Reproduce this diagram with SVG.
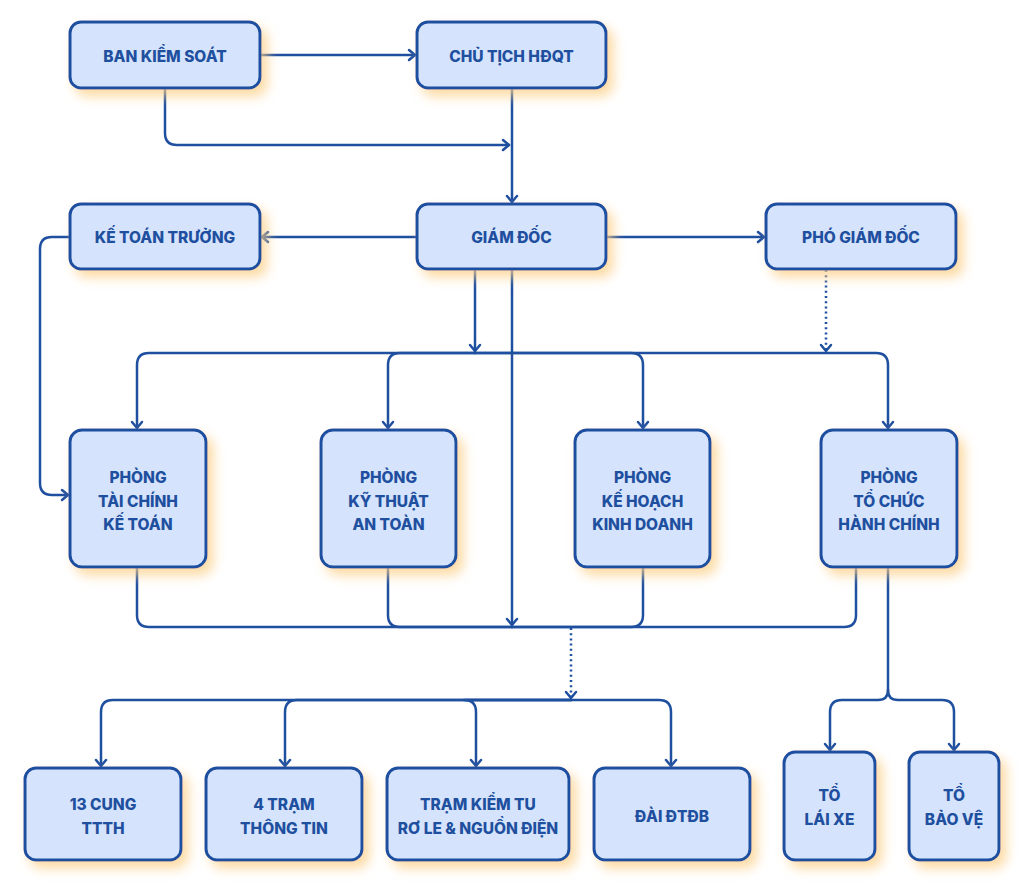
<svg xmlns="http://www.w3.org/2000/svg" width="1024" height="896" viewBox="0 0 1024 896">
<style>
.box{fill:#d5e4fc;stroke:#1f4f9f;stroke-width:3}
.lbl{font-family:Inter,"Noto Sans","DejaVu Sans",sans-serif;font-weight:800;font-size:15.5px;fill:#1f4f9f;text-anchor:middle;dominant-baseline:central}
.ln{fill:none;stroke:#1f4f9f;stroke-width:2.5;stroke-linecap:round;stroke-linejoin:round}
.arr{marker-end:url(#ah)}
.dot{stroke-dasharray:2 3.2;stroke-linecap:butt}
</style>
<defs>
<filter id="sh" x="-30%" y="-30%" width="170%" height="170%">
<feDropShadow dx="6" dy="7" stdDeviation="6" flood-color="#fbcf85" flood-opacity="0.75"/>
</filter>
<marker id="ah" viewBox="-9 -7 11 14" refX="0" refY="0" markerWidth="11" markerHeight="14" markerUnits="userSpaceOnUse" orient="auto">
<path d="M-6,-5 L0,0 L-6,5" fill="none" stroke="#1f4f9f" stroke-width="2.5" stroke-linecap="round" stroke-linejoin="round"/>
</marker>
</defs>
<rect width="1024" height="896" fill="#ffffff"/>
<g id="connectors">
<path class="ln arr" d="M260,55 H415"/>
<path class="ln arr" d="M165,88 V133 Q165,145 177,145 H509"/>
<path class="ln arr" d="M512,88 V202"/>
<path class="ln arr" d="M417,237 H262"/>
<path class="ln arr" d="M606,237 H764"/>
<path class="ln arr" d="M70,237 H52 Q40,237 40,249 V483 Q40,495 52,495 H68"/>
<path class="ln arr" d="M475,269 V351"/>
<path class="ln arr" d="M512,269 V625"/>
<path class="ln arr dot" d="M826,270 V351"/>
<path class="ln arr" d="M475,353 H149 Q137,353 137,365 V428"/>
<path class="ln arr" d="M475,353 H400 Q388,353 388,365 V428"/>
<path class="ln arr" d="M475,353 H631 Q643,353 643,365 V428"/>
<path class="ln arr" d="M475,353 H876 Q888,353 888,365 V428"/>
<path class="ln" d="M137,568 V615 Q137,627 149,627 H512"/>
<path class="ln" d="M388,568 V615 Q388,627 400,627 H512"/>
<path class="ln" d="M643,568 V615 Q643,627 631,627 H512"/>
<path class="ln" d="M856,568 V615 Q856,627 844,627 H512"/>
<path class="ln arr dot" d="M571,628 V698"/>
<path class="ln arr" d="M571,700 H113 Q101,700 101,712 V766"/>
<path class="ln arr" d="M571,700 H297 Q285,700 285,712 V766"/>
<path class="ln arr" d="M571,700 H464 Q476,700 476,712 V766"/>
<path class="ln arr" d="M571,700 H659 Q671,700 671,712 V766"/>
<path class="ln arr" d="M888,568 V690 Q888,700 878,700 H842 Q830,700 830,712 V750"/>
<path class="ln arr" d="M888,690 Q888,700 898,700 H942 Q954,700 954,712 V750"/>
</g>
<g id="ban-kiem-soat"><rect class="box" filter="url(#sh)" x="70" y="22" width="190" height="66" rx="11"/><text class="lbl" x="165" y="56">BAN KIỂM SOÁT</text></g>
<g id="chu-tich-hdqt"><rect class="box" filter="url(#sh)" x="417" y="22" width="189" height="66" rx="11"/><text class="lbl" x="511.5" y="56">CHỦ TỊCH HĐQT</text></g>
<g id="ke-toan-truong"><rect class="box" filter="url(#sh)" x="70" y="204" width="190" height="65" rx="11"/><text class="lbl" x="165" y="237">KẾ TOÁN TRƯỞNG</text></g>
<g id="giam-doc"><rect class="box" filter="url(#sh)" x="417" y="204" width="189" height="65" rx="11"/><text class="lbl" x="511.5" y="237">GIÁM ĐỐC</text></g>
<g id="pho-giam-doc"><rect class="box" filter="url(#sh)" x="766" y="204" width="190" height="65" rx="11"/><text class="lbl" x="861" y="237">PHÓ GIÁM ĐỐC</text></g>
<g id="phong-tckt"><rect class="box" filter="url(#sh)" x="70" y="430" width="136" height="137" rx="12"/><text class="lbl" x="138"><tspan x="138" y="477">PHÒNG</tspan><tspan x="138" y="501">TÀI CHÍNH</tspan><tspan x="138" y="524">KẾ TOÁN</tspan></text></g>
<g id="phong-ktat"><rect class="box" filter="url(#sh)" x="321" y="430" width="135" height="137" rx="12"/><text class="lbl" x="388.5"><tspan x="388.5" y="477">PHÒNG</tspan><tspan x="388.5" y="501">KỸ THUẬT</tspan><tspan x="388.5" y="524">AN TOÀN</tspan></text></g>
<g id="phong-khkd"><rect class="box" filter="url(#sh)" x="575" y="430" width="135" height="137" rx="12"/><text class="lbl" x="642.5"><tspan x="642.5" y="477">PHÒNG</tspan><tspan x="642.5" y="501">KẾ HOẠCH</tspan><tspan x="642.5" y="524">KINH DOANH</tspan></text></g>
<g id="phong-tchc"><rect class="box" filter="url(#sh)" x="821" y="430" width="136" height="137" rx="12"/><text class="lbl" x="889"><tspan x="889" y="477">PHÒNG</tspan><tspan x="889" y="501">TỔ CHỨC</tspan><tspan x="889" y="524">HÀNH CHÍNH</tspan></text></g>
<g id="cung-ttth"><rect class="box" filter="url(#sh)" x="25" y="768" width="156" height="92" rx="11"/><text class="lbl" x="103"><tspan x="103" y="804">13 CUNG</tspan><tspan x="103" y="828">TTTH</tspan></text></g>
<g id="tram-thong-tin"><rect class="box" filter="url(#sh)" x="206" y="768" width="156" height="92" rx="11"/><text class="lbl" x="284"><tspan x="284" y="804">4 TRẠM</tspan><tspan x="284" y="828">THÔNG TIN</tspan></text></g>
<g id="tram-kiem-tu"><rect class="box" filter="url(#sh)" x="387" y="768" width="182" height="92" rx="11"/><text class="lbl" x="478"><tspan x="478" y="804">TRẠM KIỂM TU</tspan><tspan x="478" y="828">RƠ LE &amp; NGUỒN ĐIỆN</tspan></text></g>
<g id="dai-dtdb"><rect class="box" filter="url(#sh)" x="594" y="768" width="156" height="92" rx="11"/><text class="lbl" x="672" y="816">ĐÀI ĐTĐB</text></g>
<g id="to-lai-xe"><rect class="box" filter="url(#sh)" x="784" y="752" width="91" height="108" rx="11"/><text class="lbl" x="829.5"><tspan x="829.5" y="795">TỔ</tspan><tspan x="829.5" y="819">LÁI XE</tspan></text></g>
<g id="to-bao-ve"><rect class="box" filter="url(#sh)" x="909" y="752" width="90" height="108" rx="11"/><text class="lbl" x="954"><tspan x="954" y="795">TỔ</tspan><tspan x="954" y="819">BẢO VỆ</tspan></text></g>
</svg>
